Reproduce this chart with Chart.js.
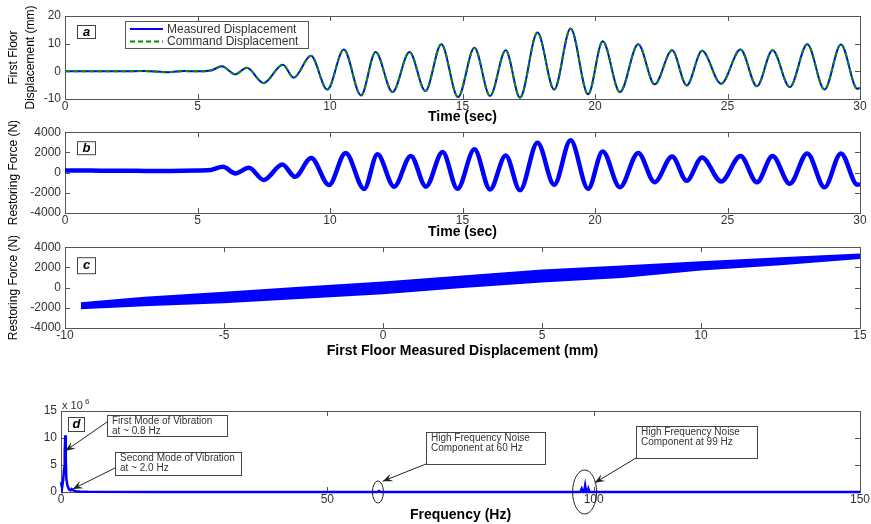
<!DOCTYPE html>
<html>
<head>
<meta charset="utf-8">
<script src="https://cdn.jsdelivr.net/npm/chart.js@4.4.1/dist/chart.umd.min.js"></script>
<style>
  html, body { margin: 0; padding: 0; background: #fff; }
  #wrap { position: relative; width: 871px; height: 524px; overflow: hidden; }
  canvas { position: absolute; left: 0; }
</style>
</head>
<body>
<div id="wrap">
  <canvas id="panelA" width="871" height="126" style="top:0px"></canvas>
  <canvas id="panelB" width="871" height="120" style="top:121px"></canvas>
  <canvas id="panelC" width="871" height="124" style="top:236px"></canvas>
  <canvas id="panelD" width="871" height="128" style="top:396px"></canvas>
</div>
<script>
// (a) first floor displacement (mm), peaks / troughs
const timeA = [0, 1, 2, 3, 3.9, 4.5, 5, 5.5, 5.92, 6.42, 6.86, 7.49, 8.22, 8.63,
  9.28, 9.9, 10.52, 11.17, 11.72, 12.36, 13.0, 13.6, 14.2, 14.83, 15.45, 16.04,
  16.63, 17.17, 17.83, 18.46, 19.08, 19.74, 20.29, 20.94, 21.63, 22.25, 22.91,
  23.46, 24.04, 24.76, 25.49, 26.11, 26.70, 27.35, 28.01, 28.66, 29.28, 29.9, 30];
const measuredDisp = [0, 0, 0, 0.1, -0.3, 0.1, 0, 0.3, 1.8, -1.1, 1.3, -4.2, 2.4, -2.3,
  5.6, -6.6, 7.9, -8.7, 7.0, -7.5, 7.0, -7.1, 9.8, -9.3, 8.5, -8.9,
  7.6, -9.5, 14.0, -6.6, 15.5, -8.3, 10.9, -7.5, 9.8, -4.7, 7.6,
  -5.1, 7.4, -4.5, 7.9, -5.4, 7.6, -5.7, 9.8, -6.6, 9.7, -6.3, -6.0];
const commandDisp = [0, 0, 0, 0.1, -0.3, 0.1, 0, 0.3, 1.8, -1.1, 1.3, -4.2, 2.4, -2.3,
  5.6, -6.6, 7.9, -8.7, 7.0, -7.5, 7.0, -7.1, 9.8, -9.3, 8.5, -8.9,
  7.6, -9.5, 14.0, -6.6, 15.5, -8.3, 10.9, -7.5, 9.8, -4.7, 7.6,
  -5.1, 7.4, -4.5, 7.9, -5.4, 7.6, -5.7, 9.8, -6.6, 9.7, -6.3, -6.0];

// (b) restoring force (N)
const timeB = [0, 1, 2, 3, 4, 5, 5.5, 5.96, 6.43, 6.94, 7.5, 8.2, 8.68,
  9.29, 9.96, 10.59, 11.29, 11.79, 12.42, 13.05, 13.62, 14.25, 14.81, 15.45, 16.04,
  16.63, 17.17, 17.83, 18.46, 19.08, 19.74, 20.29, 20.94, 21.63, 22.25, 22.91,
  23.46, 24.04, 24.76, 25.49, 26.11, 26.70, 27.35, 28.01, 28.66, 29.28, 29.9, 30];
const restoringForce = [220, 200, 180, 170, 160, 200, 260, 570, -80, 470, -730, 800, -410,
  1450, -1220, 1940, -1620, 1810, -1390, 1650, -1390, 2050, -1600, 2300, -1670,
  1700, -1750, 2950, -1200, 3200, -1600, 2100, -1450, 1950, -950, 1600,
  -800, 1500, -870, 1650, -950, 1650, -1100, 1900, -1450, 1900, -1200, -1150];

// (c) force vs displacement band (upper / lower edge of the scatter)
const bandDisp = [-9.5, -7.5, -5, -2.5, 0, 2.5, 5, 7.5, 10, 12.5, 15];
const bandUpper = [-1550, -1000, -500, 0, 500, 1100, 1700, 2100, 2500, 2900, 3280];
const bandLower = [-2050, -1750, -1450, -1000, -550, 50, 600, 1050, 1800, 2300, 2920];

// (d) spectrum, amplitude in units of 10^6
const freqHz = [0, 0.2, 0.4, 0.6, 0.7, 0.8, 0.9, 1.0, 1.2, 1.5, 1.8, 2.0, 2.3, 2.8, 3.5, 5,
  20, 59.4, 59.7, 60, 97.5, 97.75, 98.0, 98.2, 98.4, 98.6, 98.8, 99.0, 99.2, 150];
const amplitude = [1.8, 0.8, 2.2, 4.5, 7.5, 10.5, 6, 2.5, 1.2, 0.5, 0.3, 0.55, 0.3, 0.15, 0.08, 0.03,
  0, 0, 0.2, 0, 0, 0.6, 0, 0, 1.2, 0, 0, 0.6, 0, 0];

// tick values
const timeTicks = [0, 5, 10, 15, 20, 25, 30];
const dispTicks = [-10, 0, 10, 20];
const forceTicks = [-4000, -2000, 0, 2000, 4000];
const dispTicksC = [-10, -5, 0, 5, 10, 15];
const freqTicks = [0, 50, 100, 150];
const ampTicks = [0, 5, 10, 15];

const FONT = '"Liberation Sans", Arial, sans-serif';
const BLUE = '#0000ff';

const pts = (xs, ys) => xs.map((x, i) => ({ x: x, y: ys[i] }));

function axisX(min, max, ticks, title, height) {
  return {
    type: 'linear', min: min, max: max,
    afterBuildTicks: s => { s.ticks = ticks.map(v => ({ value: v })); },
    afterFit: s => { s.height = height; },
    grid: { display: false, drawTicks: false },
    border: { display: false },
    ticks: { color: '#333', font: { family: FONT, size: 12 }, padding: 0, maxRotation: 0, autoSkip: false,
      callback: v => String(v) },
    title: { display: true, text: title, color: '#000', font: { family: FONT, size: 14, weight: 'bold' }, padding: 0 }
  };
}

function axisY(min, max, ticks, title, width) {
  return {
    type: 'linear', min: min, max: max,
    afterBuildTicks: s => { s.ticks = ticks.map(v => ({ value: v })); },
    afterFit: s => { s.width = width; },
    grid: { display: false, drawTicks: false },
    border: { display: false },
    ticks: { color: '#333', font: { family: FONT, size: 12 }, padding: 4, autoSkip: false,
      callback: v => String(v) },
    title: { display: !!title, text: title || '', color: '#000',
      font: { family: FONT, size: 12, lineHeight: 1.35 }, padding: { top: 6, bottom: 0 } }
  };
}

// box, inward ticks on all four sides, and the panel letter
const matlabAxes = {
  id: 'matlabAxes',
  beforeDatasetsDraw(chart) {
    const { ctx, chartArea: a, scales: { x, y } } = chart;
    ctx.save();
    ctx.strokeStyle = '#555';
    ctx.lineWidth = 1;
    ctx.strokeRect(Math.round(a.left) + 0.5, Math.round(a.top) + 0.5,
      Math.round(a.right - a.left), Math.round(a.bottom - a.top));
    const len = 5;
    ctx.beginPath();
    x.ticks.forEach(t => {
      const px = Math.round(x.getPixelForValue(t.value)) + 0.5;
      ctx.moveTo(px, a.bottom); ctx.lineTo(px, a.bottom - len);
      ctx.moveTo(px, a.top); ctx.lineTo(px, a.top + len);
    });
    y.ticks.forEach(t => {
      const py = Math.round(y.getPixelForValue(t.value)) + 0.5;
      ctx.moveTo(a.left, py); ctx.lineTo(a.left + len, py);
      ctx.moveTo(a.right, py); ctx.lineTo(a.right - len, py);
    });
    ctx.stroke();
    ctx.restore();
  },
  afterDatasetsDraw(chart, args, opts) {
    if (!opts.letter) return;
    const { ctx, chartArea: a } = chart;
    const [dx, dy, w, h] = opts.box;
    ctx.save();
    ctx.fillStyle = '#fff';
    ctx.fillRect(a.left + dx, a.top + dy, w, h);
    ctx.strokeStyle = '#444';
    ctx.lineWidth = 1;
    ctx.strokeRect(a.left + dx + 0.5, a.top + dy + 0.5, w, h);
    ctx.fillStyle = '#000';
    ctx.font = 'italic bold 13px ' + FONT;
    ctx.textAlign = 'center';
    ctx.textBaseline = 'middle';
    ctx.fillText(opts.letter, a.left + dx + w / 2 + 0.5, a.top + dy + h / 2 + 0.5);
    ctx.restore();
  }
};

function baseOptions(xCfg, yCfg, padTop, letter, box) {
  return {
    responsive: false, animation: false,
    layout: { padding: { top: padTop, right: 11, left: 0, bottom: 0 } },
    plugins: { legend: { display: false }, tooltip: { enabled: false },
      matlabAxes: { letter: letter, box: box } },
    elements: { point: { radius: 0 } },
    scales: { x: xCfg, y: yCfg }
  };
}

// legend inside panel a
const legendA = {
  id: 'legendA',
  afterDraw(chart) {
    const { ctx, chartArea: a } = chart;
    const bx = a.left + 60, by = a.top + 5, bw = 183, bh = 27;
    ctx.save();
    ctx.fillStyle = '#fff';
    ctx.fillRect(bx, by, bw, bh);
    ctx.strokeStyle = '#555';
    ctx.lineWidth = 1;
    ctx.strokeRect(bx + 0.5, by + 0.5, bw, bh);
    ctx.font = '12px ' + FONT;
    ctx.textBaseline = 'middle';
    chart.data.datasets.forEach((ds, i) => {
      const yy = by + 8 + i * 12.5;
      ctx.strokeStyle = ds.borderColor;
      ctx.lineWidth = 2;
      ctx.setLineDash(ds.borderDash || []);
      ctx.beginPath(); ctx.moveTo(bx + 5, yy); ctx.lineTo(bx + 38, yy); ctx.stroke();
      ctx.setLineDash([]);
      ctx.fillStyle = '#333';
      ctx.fillText(ds.label, bx + 42, yy + 0.5);
    });
    ctx.restore();
  }
};

// annotations of panel d (anchors in data units, box sizes in px)
const notesD = [
  { lines: ['First Mode of Vibration', 'at ~ 0.8 Hz'], at: [8.6, 14.25], w: 120, h: 21, fromDy: 7, tip: [0.8, 7.6] },
  { lines: ['Second Mode of Vibration', 'at ~ 2.0 Hz'], at: [10.1, 7.5], w: 126, h: 23, fromDy: 16, tip: [2.2, 0.55] },
  { lines: ['High Frequency Noise', 'Component at 60 Hz'], at: [68.5, 11.05], w: 119, h: 32, fromDy: 32, tip: [60.4, 2.0] },
  { lines: ['High Frequency Noise', 'Component at 99 Hz'], at: [107.9, 12.2], w: 121, h: 32, fromDy: 32, tip: [100.2, 1.7] }
];
const ellipsesD = [
  { at: [59.5, 0], rx: 5.5, ry: 11 },
  { at: [98.3, 0], rx: 12, ry: 22 }
];

function drawArrow(ctx, x1, y1, x2, y2) {
  ctx.beginPath(); ctx.moveTo(x1, y1); ctx.lineTo(x2, y2); ctx.stroke();
  const ang = Math.atan2(y2 - y1, x2 - x1), L = 10, W = 4;
  const c = Math.cos(ang), s = Math.sin(ang);
  ctx.beginPath();
  ctx.moveTo(x2, y2);
  ctx.lineTo(x2 - L * c + W * s, y2 - L * s - W * c);
  ctx.lineTo(x2 - 0.6 * L * c, y2 - 0.6 * L * s);
  ctx.lineTo(x2 - L * c - W * s, y2 - L * s + W * c);
  ctx.closePath();
  ctx.fill();
}

const annotD = {
  id: 'annotD',
  afterDraw(chart) {
    const { ctx, chartArea: a, scales: { x, y } } = chart;
    ctx.save();
    // exponent label
    ctx.fillStyle = '#333';
    ctx.font = '11px ' + FONT;
    ctx.textBaseline = 'alphabetic';
    ctx.fillText('x 10', a.left + 1, a.top - 2);
    ctx.font = '8px ' + FONT;
    ctx.fillText('6', a.left + 24, a.top - 7);
    ctx.strokeStyle = '#222';
    ctx.lineWidth = 1;
    ellipsesD.forEach(e => {
      ctx.beginPath();
      ctx.ellipse(x.getPixelForValue(e.at[0]), y.getPixelForValue(e.at[1]), e.rx, e.ry, 0, 0, Math.PI * 2);
      ctx.stroke();
    });
    notesD.forEach(n => {
      const bx = Math.round(x.getPixelForValue(n.at[0])), by = Math.round(y.getPixelForValue(n.at[1]));
      ctx.fillStyle = '#fff';
      ctx.fillRect(bx, by, n.w, n.h);
      ctx.strokeStyle = '#444';
      ctx.strokeRect(bx + 0.5, by + 0.5, n.w, n.h);
      ctx.fillStyle = '#333';
      ctx.font = '10px ' + FONT;
      ctx.textBaseline = 'middle';
      n.lines.forEach((t, i) => ctx.fillText(t, bx + 5, by + 6 + i * 10));
      ctx.strokeStyle = '#222';
      ctx.fillStyle = '#222';
      drawArrow(ctx, bx, by + n.fromDy, x.getPixelForValue(n.tip[0]), y.getPixelForValue(n.tip[1]));
    });
    ctx.restore();
  }
};

new Chart(document.getElementById('panelA'), {
  type: 'line',
  data: {
    datasets: [
      { label: 'Measured Displacement', data: pts(timeA, measuredDisp), borderColor: BLUE, borderWidth: 2,
        cubicInterpolationMode: 'monotone', fill: false, order: 2 },
      { label: 'Command Displacement', data: pts(timeA, commandDisp), borderColor: '#0a8a0a', borderWidth: 2,
        borderDash: [5, 3], cubicInterpolationMode: 'monotone', fill: false, order: 1 }
    ]
  },
  options: baseOptions(axisX(0, 30, timeTicks, 'Time (sec)', 27),
    axisY(-10, 20, dispTicks, ['First Floor', 'Displacement (mm)'], 65), 16, 'a', [12, 9, 18, 13]),
  plugins: [matlabAxes, legendA]
});

new Chart(document.getElementById('panelB'), {
  type: 'line',
  data: {
    datasets: [
      { label: 'Restoring Force', data: pts(timeB, restoringForce), borderColor: BLUE, borderWidth: 4.5,
        cubicInterpolationMode: 'monotone', fill: false }
    ]
  },
  options: baseOptions(axisX(0, 30, timeTicks, 'Time (sec)', 28),
    axisY(-4000, 4000, forceTicks, 'Restoring Force (N)', 65), 10, 'b', [12, 9, 18, 13]),
  plugins: [matlabAxes]
});

new Chart(document.getElementById('panelC'), {
  type: 'line',
  data: {
    datasets: [
      { label: 'upper', data: pts(bandDisp, bandUpper), borderColor: BLUE, borderWidth: 2, fill: false },
      { label: 'lower', data: pts(bandDisp, bandLower), borderColor: BLUE, borderWidth: 2,
        backgroundColor: BLUE, fill: '-1' }
    ]
  },
  options: baseOptions(axisX(-10, 15, dispTicksC, 'First Floor Measured Displacement (mm)', 32),
    axisY(-4000, 4000, forceTicks, 'Restoring Force (N)', 65), 10, 'c', [12, 10, 18, 16]),
  plugins: [matlabAxes]
});

new Chart(document.getElementById('panelD'), {
  type: 'line',
  data: {
    datasets: [
      { label: 'Spectrum', data: pts(freqHz, amplitude), borderColor: BLUE, borderWidth: 2.5,
        fill: false, clip: false }
    ]
  },
  options: baseOptions(axisX(0, 150, freqTicks, 'Frequency (Hz)', 32),
    axisY(0, 15, ampTicks, null, 61), 15, 'd', [7, 6, 16, 14]),
  plugins: [matlabAxes, annotD]
});
</script>
</body>
</html>
